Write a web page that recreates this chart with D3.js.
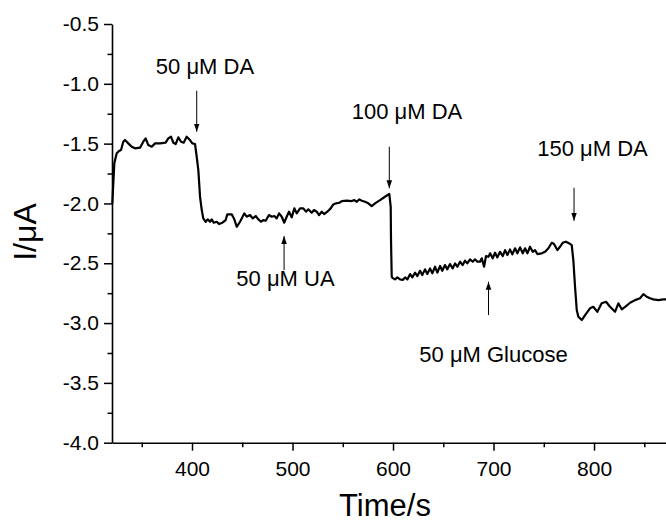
<!DOCTYPE html>
<html>
<head>
<meta charset="utf-8">
<script src="https://cdn.jsdelivr.net/npm/d3@7"></script>
<style>
  html, body { margin: 0; padding: 0; background: #fff; }
  svg { display: block; font-family: Arial, "Liberation Sans", Helvetica, sans-serif; }
</style>
</head>
<body>
<svg id="chart" width="666" height="524"></svg>
<script>
// ---- data ----
const timeValues = [320.7,322.7,325.1,327.4,329.4,331.6,333.3,336.6,340.0,343.3,348.3,351.5,353.9,356.5,359.9,363.2,368.2,373.8,376.4,379.1,381.4,383.8,386.4,389.1,391.7,394.7,398.0,400.3,403.0,404.7,406.3,408.0,409.7,411.2,413.6,415.6,417.9,419.6,421.6,424.6,426.9,430.2,433.5,435.1,439.5,442.1,444.5,447.8,452.0,454.4,457.7,460.4,463.4,466.0,468.7,470.9,473.3,476.6,479.3,481.9,484.3,486.6,489.3,491.8,494.2,496.5,499.2,501.8,504.2,507.5,510.8,513.4,515.7,519.1,521.4,524.1,526.4,529.1,531.4,534.6,538.0,540.6,543.3,546.6,549.0,553.9,558.9,561.5,563.9,566.5,568.9,572.2,575.4,578.8,582.1,587.1,592.0,596.3,597.7,598.0,598.7,599.7,602.0,604.3,607.0,609.7,612.0,614.3,617.0,619.2,621.9,624.2,626.9,629.1,631.8,634.1,636.8,639.1,641.8,644.1,646.8,649.0,651.7,654.0,656.7,659.4,661.7,664.0,666.7,669.3,671.6,673.9,676.6,679.3,681.6,683.9,686.6,688.3,690.6,692.5,694.9,696.6,699.2,701.5,703.8,706.5,709.2,711.5,713.8,716.4,718.7,721.4,723.7,726.4,729.1,731.4,733.7,736.3,739.0,741.3,743.6,748.0,751.3,754.6,757.9,760.2,763.5,766.2,768.8,772.1,775.4,777.8,779.4,781.1,782.8,784.4,787.8,791.1,796.0,799.3,803.3,807.6,811.9,815.9,820.9,824.2,827.6,830.9,835.9,840.8,845.8,849.1,852.4,855.7,859.0,864.0,868.9,871.6];
const currentValues = [-2.000,-1.665,-1.581,-1.562,-1.554,-1.484,-1.470,-1.498,-1.526,-1.539,-1.534,-1.484,-1.456,-1.512,-1.526,-1.498,-1.498,-1.492,-1.456,-1.442,-1.492,-1.503,-1.447,-1.484,-1.492,-1.442,-1.470,-1.498,-1.503,-1.610,-1.721,-1.944,-2.055,-2.125,-2.153,-2.133,-2.153,-2.133,-2.161,-2.153,-2.172,-2.161,-2.139,-2.091,-2.091,-2.133,-2.195,-2.153,-2.083,-2.111,-2.097,-2.125,-2.105,-2.133,-2.153,-2.139,-2.145,-2.097,-2.111,-2.105,-2.125,-2.083,-2.111,-2.161,-2.111,-2.069,-2.116,-2.041,-2.083,-2.041,-2.041,-2.069,-2.049,-2.078,-2.055,-2.069,-2.097,-2.069,-2.089,-2.069,-2.041,-2.008,-1.999,-1.994,-1.980,-1.977,-1.980,-1.972,-1.986,-1.966,-1.977,-1.986,-1.999,-2.022,-1.999,-1.972,-1.944,-1.921,-2.028,-2.306,-2.613,-2.624,-2.635,-2.618,-2.635,-2.640,-2.618,-2.635,-2.590,-2.618,-2.579,-2.607,-2.563,-2.599,-2.551,-2.590,-2.543,-2.584,-2.529,-2.579,-2.523,-2.563,-2.515,-2.551,-2.507,-2.543,-2.501,-2.529,-2.487,-2.515,-2.479,-2.501,-2.467,-2.487,-2.467,-2.487,-2.487,-2.459,-2.529,-2.440,-2.446,-2.417,-2.459,-2.412,-2.451,-2.404,-2.440,-2.390,-2.431,-2.384,-2.426,-2.375,-2.417,-2.367,-2.417,-2.375,-2.417,-2.362,-2.404,-2.390,-2.423,-2.417,-2.404,-2.375,-2.329,-2.339,-2.390,-2.362,-2.329,-2.320,-2.334,-2.348,-2.473,-2.696,-2.891,-2.947,-2.975,-2.933,-2.877,-2.864,-2.906,-2.835,-2.822,-2.864,-2.906,-2.835,-2.885,-2.864,-2.830,-2.808,-2.793,-2.758,-2.780,-2.793,-2.802,-2.808,-2.802,-2.802];

const xTicks = [400, 500, 600, 700, 800];
const xMinorTicks = [350, 450, 550, 650, 750, 850];
const yTicks = [-4.0, -3.5, -3.0, -2.5, -2.0, -1.5, -1.0, -0.5];
const yMinorTicks = [-3.75, -3.25, -2.75, -2.25, -1.75, -1.25, -0.75];

// annotations: label, label position (time, current), arrow from/to (current) at time
const annoLabels = ["50 μM DA", "100 μM DA", "150 μM DA", "50 μM UA", "50 μM Glucose"];
const annoLabelTime = [412.9, 613.9, 798.5, 493.0, 700.0];
const annoLabelCurrent = [-0.914, -1.297, -1.604, -2.691, -3.326];
const arrowTime = [404.7, 596.3, 780.1, 491.6, 695.0];
const arrowFrom = [-1.058, -1.526, -1.869, -2.557, -2.933];
const arrowTo = [-1.400, -1.874, -2.145, -2.273, -2.655];

const xTitle = "Time/s";
const yTitle = "I/μA";

// ---- layout ----
const svg = d3.select("#chart");
const x = d3.scaleLinear().domain([320.4, 871.6]).range([112, 666]);
const y = d3.scaleLinear().domain([-4.0, -0.5]).range([442.7, 24]);
const fmt = d => d3.format(".1f")(d).replace("\u2212", "-");

const defs = svg.append("defs");
defs.append("marker")
  .attr("id", "ah").attr("viewBox", "0 0 8 8")
  .attr("refX", 8).attr("refY", 4)
  .attr("markerWidth", 8).attr("markerHeight", 8)
  .attr("markerUnits", "userSpaceOnUse")
  .attr("orient", "auto")
  .append("path").attr("d", "M0,1.2 L8,4 L0,6.8 Z").attr("fill", "#000");

// axes
const yAxis = d3.axisLeft(y).tickValues(yTicks).tickFormat(fmt).tickSize(8).tickPadding(5).tickSizeOuter(0);
const gy = svg.append("g").attr("transform", `translate(${x.range()[0]},0)`).call(yAxis);
gy.selectAll("text").attr("font-size", 21).attr("fill", "#000").attr("font-family", "Arial, 'Liberation Sans', sans-serif");
gy.select(".domain").attr("stroke-width", 1.6);
gy.selectAll(".tick line").attr("stroke-width", 1.5);
svg.append("g").attr("transform", `translate(${x.range()[0]},0)`)
  .call(d3.axisLeft(y).tickValues(yMinorTicks).tickFormat("").tickSize(4.5).tickSizeOuter(0))
  .call(g => g.select(".domain").remove())
  .selectAll("line").attr("stroke-width", 1.5);

const xAxis = d3.axisBottom(x).tickValues(xTicks).tickFormat(d3.format("d")).tickSize(8).tickPadding(10).tickSizeOuter(0);
const gx = svg.append("g").attr("transform", `translate(0,${y.range()[0]})`).call(xAxis);
gx.selectAll("text").attr("font-size", 21).attr("fill", "#000").attr("font-family", "Arial, 'Liberation Sans', sans-serif");
gx.select(".domain").attr("stroke-width", 1.6);
gx.selectAll(".tick line").attr("stroke-width", 1.5);
svg.append("g").attr("transform", `translate(0,${y.range()[0]})`)
  .call(d3.axisBottom(x).tickValues(xMinorTicks).tickFormat("").tickSize(4.5).tickSizeOuter(0))
  .call(g => g.select(".domain").remove())
  .selectAll("line").attr("stroke-width", 1.5);

// trace
const pts = timeValues.map((t, i) => [t, currentValues[i]]);
svg.append("path")
  .datum(pts)
  .attr("fill", "none")
  .attr("stroke", "#000")
  .attr("stroke-width", 2.2)
  .attr("stroke-linejoin", "round")
  .attr("d", d3.line().x(d => x(d[0])).y(d => y(d[1])));

// annotations
annoLabels.forEach((lab, i) => {
  svg.append("text")
    .attr("x", x(annoLabelTime[i])).attr("y", y(annoLabelCurrent[i]))
    .attr("text-anchor", "middle").attr("font-size", 22).attr("fill", "#000")
    .text(lab);
  svg.append("line")
    .attr("x1", x(arrowTime[i])).attr("x2", x(arrowTime[i]))
    .attr("y1", y(arrowFrom[i])).attr("y2", y(arrowTo[i]))
    .attr("stroke", "#000").attr("stroke-width", 1)
    .attr("marker-end", "url(#ah)");
});

// titles
svg.append("text")
  .attr("x", 385).attr("y", 516)
  .attr("text-anchor", "middle").attr("font-size", 31).attr("fill", "#000")
  .text(xTitle);
svg.append("text")
  .attr("transform", `translate(36,232) rotate(-90)`)
  .attr("text-anchor", "middle").attr("font-size", 32).attr("fill", "#000")
  .text(yTitle);
</script>
</body>
</html>
